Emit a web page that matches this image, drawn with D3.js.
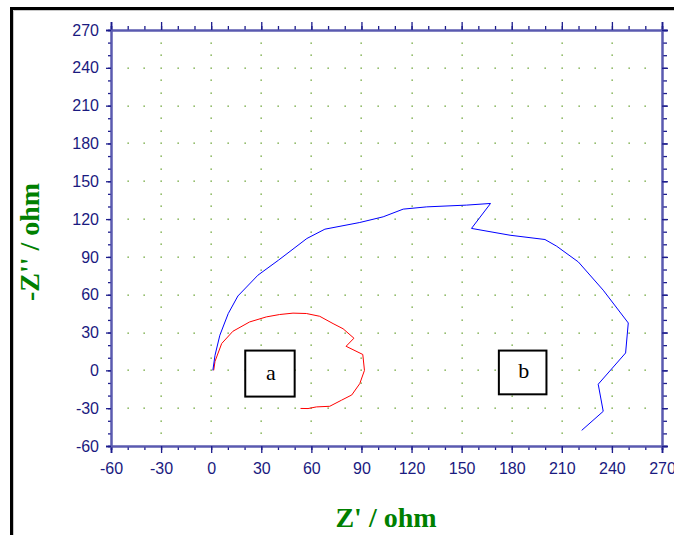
<!DOCTYPE html>
<html>
<head>
<meta charset="utf-8">
<script src="https://cdn.jsdelivr.net/npm/d3@7"></script>
<style>
  body { margin: 0; background: #fff; }
  svg { display: block; }
</style>
</head>
<body>
<div id="chart"></div>
<script>
// Z' (x) and -Z'' (y) in ohm
var curveA_x = [1.5, 2.3, 6.3, 13, 23, 33, 41, 49, 57, 65, 73, 79, 85.5, 80.8, 90.8, 91.8, 89, 84.2, 78, 71, 63, 58, 53.5];
var curveA_y = [0, 7.2, 21.3, 31, 38.4, 42.4, 44.3, 45.4, 45.1, 42.9, 37.1, 33, 25.5, 19.1, 12.6, 0, -10.5, -19.5, -23.7, -28.5, -29, -30.3, -30.2];

var curveB_x = [1, 2.3, 5.2, 10.2, 16, 28, 40.3, 57.3, 68.1, 89, 103, 115, 129.1, 153, 167.3, 155.9, 179, 199.9, 206.9, 219.9, 234.8, 249.8, 248.2, 231.8, 234.8, 221.9];
var curveB_y = [0, 12, 27.9, 45, 59, 75.5, 87.4, 104.6, 112, 117.3, 121.8, 127.9, 129.7, 131.1, 132.4, 112.6, 107.2, 103.8, 98.5, 86, 63.6, 37.6, 13.8, -11, -32.5, -47.6];

var xTicks = [-60, -30, 0, 30, 60, 90, 120, 150, 180, 210, 240, 270];
var yTicks = [-60, -30, 0, 30, 60, 90, 120, 150, 180, 210, 240, 270];

var boxLabels = ["a", "b"];
var boxX = [[20.4, 50], [172.3, 200.8]];
var boxY = [[15.7, -20.8], [15.7, -19]];

var margin = {top: 30, right: 12, bottom: 89, left: 111},
    width = 674 - margin.left - margin.right,
    height = 535 - margin.top - margin.bottom;

var svg = d3.select("#chart").append("svg")
  .attr("width", 674)
  .attr("height", 535);

// outer frame (only left and top visible)
svg.append("path")
  .attr("d", "M13.5,535V10.5H674")
  .attr("fill", "none")
  .attr("stroke", "#c8c8c8")
  .attr("stroke-width", 1);
svg.append("path")
  .attr("d", "M11.5,535V8.5H674")
  .attr("fill", "none")
  .attr("stroke", "#000")
  .attr("stroke-width", 3);

var chartArea = svg.append("g")
  .attr("transform", "translate(" + margin.left + "," + margin.top + ")");

var x = d3.scaleLinear().domain([-60, 270]).range([0, width]);
var y = d3.scaleLinear().domain([-60, 270]).range([height, 0]);

// dotted grid: dots every 10 along every 30-unit line
var dots = [];
xTicks.slice(1, -1).forEach(function(xv) {
  d3.range(-50, 270, 10).forEach(function(yv) { dots.push([xv, yv]); });
});
yTicks.slice(1, -1).forEach(function(yv) {
  d3.range(-50, 270, 10).forEach(function(xv) {
    if (xv % 30 !== 0) dots.push([xv, yv]);
  });
});
chartArea.append("g").selectAll("rect")
  .data(dots)
  .enter().append("rect")
  .attr("x", function(d) { return Math.round(x(d[0])) - 0.5; })
  .attr("y", function(d) { return Math.round(y(d[1])) - 0.5; })
  .attr("width", 1.3)
  .attr("height", 1.3)
  .attr("fill", "#5a9a1e");

var navy = "#1c1c8c";
var minorX = d3.range(-60, 271, 10);
var minorY = d3.range(-60, 271, 10);
var fmt = function(d) { return String(d); };

function styleAxis(g) {
  g.select(".domain").attr("stroke", "#5a5ab0").attr("stroke-width", 2);
  g.selectAll(".tick line").attr("stroke", navy).attr("stroke-width", 1.3);
  g.selectAll("text")
    .attr("fill", "#1a1a80")
    .style("font-family", "Liberation Sans, Arial, sans-serif")
    .style("font-size", "16px");
}

// minor ticks
chartArea.append("g").attr("transform", "translate(0," + height + ")")
  .call(d3.axisBottom(x).tickValues(minorX).tickSize(4).tickFormat(""))
  .call(styleAxis);
chartArea.append("g")
  .call(d3.axisTop(x).tickValues(minorX).tickSize(4).tickFormat(""))
  .call(styleAxis);
chartArea.append("g")
  .call(d3.axisLeft(y).tickValues(minorY).tickSize(3).tickFormat(""))
  .call(styleAxis);
chartArea.append("g").attr("transform", "translate(" + width + ",0)")
  .call(d3.axisRight(y).tickValues(minorY).tickSize(5).tickFormat(""))
  .call(styleAxis);

// major ticks + labels
chartArea.append("g").attr("transform", "translate(0," + height + ")")
  .call(d3.axisBottom(x).tickValues(xTicks).tickSize(7).tickPadding(10).tickFormat(fmt))
  .call(styleAxis);
chartArea.append("g")
  .call(d3.axisTop(x).tickValues(xTicks).tickSize(8).tickFormat(""))
  .call(styleAxis);
chartArea.append("g")
  .call(d3.axisLeft(y).tickValues(yTicks).tickSize(5).tickPadding(7).tickFormat(fmt))
  .call(styleAxis);
chartArea.append("g").attr("transform", "translate(" + width + ",0)")
  .call(d3.axisRight(y).tickValues(yTicks).tickSize(6).tickFormat(""))
  .call(styleAxis);

// curves
var line = d3.line()
  .x(function(d) { return x(d[0]); })
  .y(function(d) { return y(d[1]); });

chartArea.append("path")
  .datum(d3.zip(curveA_x, curveA_y))
  .attr("fill", "none")
  .attr("stroke", "#ff0000")
  .attr("stroke-width", 1)
  .attr("d", line);

chartArea.append("path")
  .datum(d3.zip(curveB_x, curveB_y))
  .attr("fill", "none")
  .attr("stroke", "#0000ff")
  .attr("stroke-width", 1)
  .attr("d", line);

// label boxes
boxLabels.forEach(function(lbl, i) {
  var x0 = x(boxX[i][0]), x1 = x(boxX[i][1]);
  var y0 = y(boxY[i][0]), y1 = y(boxY[i][1]);
  chartArea.append("rect")
    .attr("x", x0).attr("y", y0)
    .attr("width", x1 - x0).attr("height", y1 - y0)
    .attr("fill", "#fff")
    .attr("stroke", "#000")
    .attr("stroke-width", 2);
  chartArea.append("text")
    .attr("x", (x0 + x1) / 2 + 1)
    .attr("y", (y0 + y1) / 2 + 6)
    .attr("text-anchor", "middle")
    .style("font-family", "Liberation Serif, Times New Roman, serif")
    .style("font-size", "22px")
    .text(lbl);
});

// axis titles
svg.append("text")
  .attr("x", 386)
  .attr("y", 527)
  .attr("text-anchor", "middle")
  .attr("fill", "#008000")
  .style("font-family", "Liberation Serif, Times New Roman, serif")
  .style("font-weight", "bold")
  .style("font-size", "28px")
  .text("Z' / ohm");

svg.append("text")
  .attr("transform", "translate(39,242) rotate(-90)")
  .attr("text-anchor", "middle")
  .attr("fill", "#008000")
  .style("font-family", "Liberation Serif, Times New Roman, serif")
  .style("font-weight", "bold")
  .style("font-size", "28px")
  .text("-Z'' / ohm");
</script>
</body>
</html>
